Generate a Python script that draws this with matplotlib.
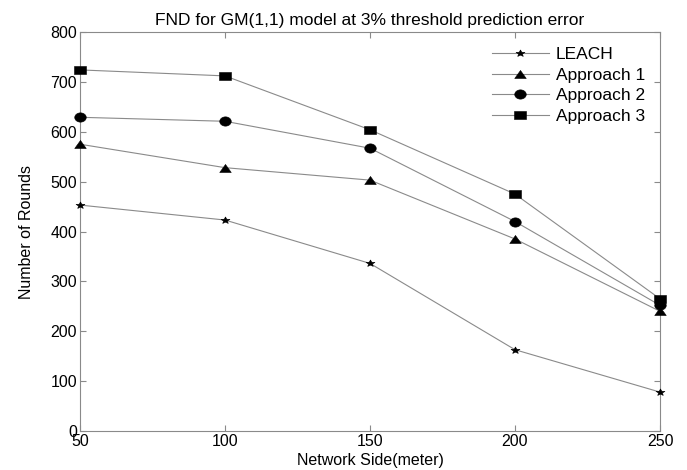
import numpy as np
import matplotlib
matplotlib.use('Agg')
import matplotlib.pyplot as plt
from matplotlib.path import Path

plt.rcParams['font.family'] = ['Liberation Sans', 'DejaVu Sans']

# network side (meter)
sides = [50, 100, 150, 200, 250]

# number of rounds until first node dies
leach = [453, 423, 336, 163, 78]
approach1 = [575, 528, 503, 385, 240]
approach2 = [629, 621, 567, 420, 252]
approach3 = [724, 712, 604, 475, 265]


# the reference looks stretched sideways, so the markers are a bit wide
def wide(verts, sx):
    v = np.asarray(verts, dtype=float).copy()
    v[:, 0] *= sx
    return Path(v)


star = wide(Path.unit_regular_star(5, 0.45).vertices, 1.3)
tri = wide([(0, 1), (-1, -1), (1, -1), (0, 1)], 1.44)
t = np.linspace(0, 2 * np.pi, 40)
ell = wide(np.column_stack([np.cos(t), np.sin(t)]), 1.24)
rect = wide([(-1, -1), (1, -1), (1, 1), (-1, 1), (-1, -1)], 1.47)

series = [
    ('LEACH', leach, star, 6.4),
    ('Approach 1', approach1, tri, 8.3),
    ('Approach 2', approach2, ell, 8.3),
    ('Approach 3', approach3, rect, 8.0),
]

grey = '#8a8a8a'

fig = plt.figure(figsize=(6.87, 4.70), dpi=100)
ax = fig.add_axes([80 / 687, 1 - 431 / 470, 580 / 687, 399 / 470])

for name, vals, mk, ms in series:
    ax.plot(sides, vals, color=grey, linewidth=0.8, marker=mk, markersize=ms,
            markerfacecolor='black', markeredgecolor='black',
            markeredgewidth=0.4, label=name, clip_on=False, zorder=3)

ax.set_xlim(50, 250)
ax.set_ylim(0, 800)
ax.set_xticks(sides)
ax.set_yticks(range(0, 801, 100))
ax.tick_params(direction='in', top=True, right=True, length=4, color=grey,
               labelsize=11.5, pad=2)
for sp in ax.spines.values():
    sp.set_color(grey)
    sp.set_linewidth(0.8)

ax.set_xlabel('Network Side(meter)', fontsize=11.5, labelpad=3)
ax.set_ylabel('Number of Rounds', fontsize=11.5, labelpad=12)
ax.set_title('FND for GM(1,1) model at 3% threshold prediction error',
             fontsize=12.5, pad=5)

leg = ax.legend(loc='upper right', frameon=False, fontsize=12.5,
                handlelength=3.3, handletextpad=0.4, labelspacing=0.32,
                borderaxespad=0.45)

fig.savefig('out.png', dpi=100)
